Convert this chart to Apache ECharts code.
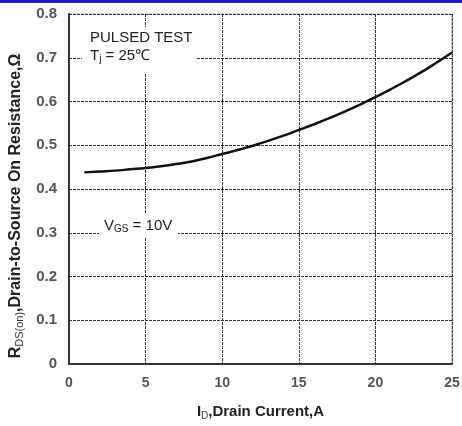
<!DOCTYPE html>
<html>
<head>
<meta charset="utf-8">
<script src="https://cdn.jsdelivr.net/npm/echarts@6/dist/echarts.min.js"></script>
<style>html,body{margin:0;padding:0;background:#fff;}#c{width:462px;height:426px;}</style>
</head>
<body>
<div id="c"></div>
<script>
var currentA = [1, 2, 3, 4, 5, 6, 7, 8, 9, 10, 11, 12, 13, 14, 15, 16, 17, 18, 19, 20, 21, 22, 23, 24, 25];
var resistance = [0.438, 0.440, 0.442, 0.445, 0.448, 0.452, 0.457, 0.463, 0.471, 0.480, 0.489, 0.499, 0.510, 0.522, 0.535, 0.548, 0.562, 0.577, 0.593, 0.610, 0.628, 0.647, 0.667, 0.689, 0.712];
var xTicks = [0, 5, 10, 15, 20, 25];
var yTicks = [0, 0.1, 0.2, 0.3, 0.4, 0.5, 0.6, 0.7, 0.8];

var pts = currentA.map(function (x, i) { return [x, resistance[i]]; });
var FONT = '"Liberation Sans", Arial, sans-serif';
var chart = echarts.init(document.getElementById('c'), null, {renderer: 'canvas'});
var gridDash = {show: true, lineStyle: {color: '#333', width: 1, type: [3, 1]}};
chart.setOption({
  animation: false,
  backgroundColor: '#fff',
  grid: {left: 69, right: 10, top: 14, bottom: 62, show: true, borderColor: '#aaa', borderWidth: 1,
    containLabel: false, outerBoundsMode: 'none'},
  xAxis: {
    type: 'value', min: 0, max: 25, interval: 5,
    axisLine: {show: true, onZero: false, lineStyle: {color: '#333', width: 2}},
    axisTick: {show: false},
    splitLine: gridDash,
    axisLabel: {color: '#555', fontSize: 14, fontWeight: 'bold', fontFamily: FONT, margin: 12,
      formatter: function (v) { return xTicks.indexOf(v) >= 0 ? String(v) : ''; }},
    name: '{b|I}{s|D}{b|,Drain Current,A}',
    nameLocation: 'middle', nameGap: 39,
    nameTextStyle: {
      rich: {
        b: {fontSize: 15, fontWeight: 'bold', fontFamily: FONT, color: '#222'},
        s: {fontSize: 10, fontFamily: FONT, color: '#333', padding: [8, 0, 0, 0]}
      }
    }
  },
  yAxis: {
    type: 'value', min: 0, max: 0.8, interval: 0.1,
    axisLine: {show: true, onZero: false, lineStyle: {color: '#333', width: 2}},
    axisTick: {show: false},
    splitLine: gridDash,
    axisLabel: {color: '#555', fontSize: 15, fontWeight: 'bold', fontFamily: FONT, margin: 12,
      formatter: function (v) {
        var t = yTicks.filter(function (k) { return Math.abs(k - v) < 1e-9; });
        return t.length ? (v === 0 ? '0' : v.toFixed(1)) : '';
      }},
    name: '{b|R}{s|DS(on)}{b|,Drain-to-Source On Resistance,Ω}',
    nameLocation: 'middle', nameGap: 42,
    nameTextStyle: {
      padding: [0, 34, 0, 0],
      rich: {
        b: {fontSize: 16, fontWeight: 'bold', fontFamily: FONT, color: '#222'},
        s: {fontSize: 11, fontFamily: FONT, color: '#333', padding: [8, 0, 0, 0]}
      }
    }
  },
  series: [{
    type: 'line', data: pts, smooth: true, showSymbol: false,
    lineStyle: {color: '#111', width: 2.5}, z: 5
  }],
  graphic: [
    {type: 'rect', shape: {x: 0, y: 0, width: 462, height: 2}, style: {fill: '#1010e0'}, z: 100},
    {type: 'rect', shape: {x: 0, y: 2, width: 462, height: 1}, style: {fill: '#333399'}, z: 100},
    {type: 'rect', shape: {x: 82, y: 27, width: 114, height: 46}, style: {fill: '#fff'}, z: 50},
    {type: 'text', left: 90, top: 30, style: {text: 'PULSED TEST', font: '15px ' + FONT, fill: '#222'}, z: 60},
    {type: 'text', left: 90, top: 48, style: {
      text: '{m|T}{s|j}{m| = 25\u2103}',
      rich: {m: {fontSize: 15, fontFamily: FONT, fill: '#222'}, s: {fontSize: 10, fontFamily: FONT, fill: '#222', padding: [7, 0, 0, 0]}}
    }, z: 60},
    {type: 'rect', shape: {x: 99, y: 214, width: 79, height: 24}, style: {fill: '#fff'}, z: 50},
    {type: 'text', left: 104, top: 218, style: {
      text: '{m|V}{s|GS}{m| = 10V}',
      rich: {m: {fontSize: 15, fontFamily: FONT, fill: '#222'}, s: {fontSize: 10, fontFamily: FONT, fill: '#222', padding: [7, 0, 0, 0]}}
    }, z: 60}
  ]
});
</script>
</body>
</html>
